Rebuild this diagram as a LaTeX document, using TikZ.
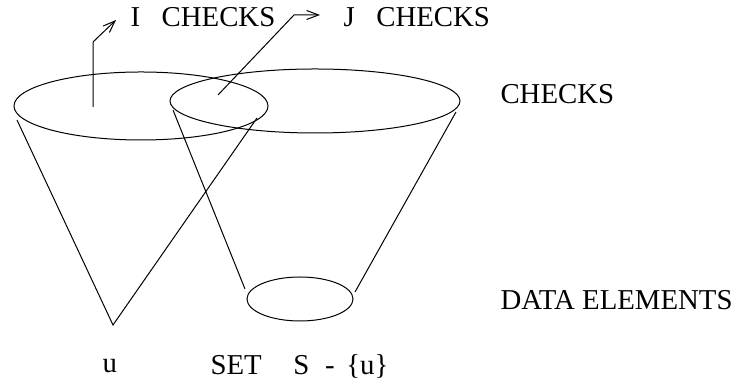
\documentclass[tikz,border=0pt]{standalone}
\usepackage{fontspec}
\setmainfont{Liberation Serif}
\usetikzlibrary{arrows.meta}

\begin{document}
\begin{tikzpicture}[
  x=0.5pt, y=-0.5pt,
  line width=0.5pt,
  label/.style={inner sep=0pt,anchor=west,font=\fontsize{14.4}{17}\selectfont},
  pointer/.style={-{Straight Barb[length=6pt,width=4.5pt]}}
]
  \useasboundingbox (0,0) rectangle (735,383);
  % the two check sets and the data set
  \draw (141,106) ellipse [x radius=127, y radius=34];
  \draw (315,101) ellipse [x radius=145, y radius=32];
  \draw (300,299) ellipse [x radius=53, y radius=22];
  % cone ends
  \coordinate (ia) at (17,120);
  \coordinate (ib) at (257,118);
  \coordinate (iu) at (113,325);
  \coordinate (ja) at (173,110);
  \coordinate (jb) at (456,112);
  \coordinate (sa) at (245,289);
  \coordinate (sb) at (355,292);
  \draw (ia) -- (iu) -- (ib);
  \draw (ja) -- (sa);
  \draw (jb) -- (sb);
  % labels
  \node[label] (ichecks) at (130,17) {I\hspace{0.75em}CHECKS};
  \node[label] (jchecks) at (343,17) {J\hspace{0.75em}CHECKS};
  \node[label] (checks) at (500,94) {CHECKS};
  \node[label] (data) at (500,300) {DATA ELEMENTS};
  \node[label] (u) at (102,366) {u};
  \node[label] (set) at (210,366) {SET\hspace{1.1em}S\hspace{0.55em}-\hspace{0.4em}\{u\}};
  % pointers
  \coordinate (ip) at (93,107);
  \coordinate (ik) at (93,42);
  \coordinate (it) at (116,20);
  \coordinate (jp) at (218,95);
  \coordinate (jk) at (294,15);
  \coordinate (jt) at (320,15);
  \draw[pointer] (ip) -- (ik) -- (it);
  \draw[pointer] (jp) -- (jk) -- (jt);
\end{tikzpicture}
\end{document}
